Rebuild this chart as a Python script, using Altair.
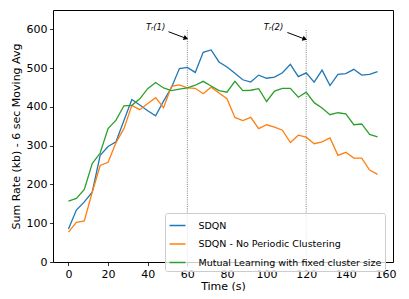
import altair as alt
import pandas as pd

time_s = [0, 4, 8, 12, 16, 20, 24, 28, 32, 36, 40, 44, 48, 52, 56, 60, 64, 68, 72, 76,
          80, 84, 88, 92, 96, 100, 104, 108, 112, 116, 120, 124, 128, 132, 136, 140, 144, 148, 152, 156]

sdqn = [85, 134, 155, 180, 275, 298, 310, 365, 419, 405, 390, 377, 415, 450, 499, 502, 489, 541, 547, 516,
        503, 487, 470, 464, 482, 474, 477, 488, 510, 478, 488, 464, 495, 455, 484, 486, 497, 482, 484, 491]

sdqn_npc = [77, 102, 106, 180, 249, 257, 308, 344, 404, 393, 409, 424, 398, 453, 457, 449, 448, 434, 451, 436,
            421, 373, 365, 373, 344, 354, 348, 340, 308, 327, 322, 305, 310, 320, 275, 283, 268, 268, 237, 226]

mutual = [157, 164, 187, 254, 281, 344, 366, 403, 404, 421, 447, 463, 449, 442, 446, 449, 456, 466, 454, 442,
          438, 466, 442, 443, 447, 414, 441, 448, 448, 425, 438, 411, 397, 380, 385, 382, 354, 356, 329, 323]

series_names = ["SDQN", "SDQN - No Periodic Clustering", "Mutual Learning with fixed cluster size"]
series_colors = ["#1f77b4", "#ff7f0e", "#2ca02c"]

vline_x = [60, 120]
vline_top = [600, 600]

ann_labels = ["Tᵣ(1)", "Tᵣ(2)"]
ann_text_x = [44, 103.5]
ann_text_y = [606, 605]
arrow_x0 = [50.5, 110.5]
arrow_y0 = [594, 592]
arrow_x1 = [59.3, 119.3]
arrow_y1 = [577, 575]

rows = []
for name, vals in zip(series_names, [sdqn, sdqn_npc, mutual]):
    for t, v in zip(time_s, vals):
        rows.append({"time": t, "value": v, "series": name})
df = pd.DataFrame(rows)

vdf = pd.DataFrame({"x": vline_x, "y0": [0, 0], "y1": vline_top})
adf = pd.DataFrame({"label": ann_labels, "tx": ann_text_x, "ty": ann_text_y,
                    "x0": arrow_x0, "y0": arrow_y0, "x1": arrow_x1, "y1": arrow_y1})

xscale = alt.Scale(domain=[-7.8, 163.8], nice=False, zero=False)
yscale = alt.Scale(domain=[0, 650], nice=False, zero=False)

lines = alt.Chart(df).mark_line(strokeWidth=1.3).encode(
    x=alt.X("time:Q", scale=xscale,
            axis=alt.Axis(title="Time (s)", values=[0, 20, 40, 60, 80, 100, 120, 140, 160])),
    y=alt.Y("value:Q", scale=yscale,
            axis=alt.Axis(title="Sum Rate (kb) - 6 sec Moving Avg", values=[0, 100, 200, 300, 400, 500, 600])),
    color=alt.Color("series:N",
                    scale=alt.Scale(domain=series_names, range=series_colors),
                    sort=series_names,
                    legend=alt.Legend(title=None, orient="none", legendX=112, legendY=203,
                                      symbolType="stroke", symbolSize=256, symbolStrokeWidth=1.5,
                                      labelFontSize=9.5, labelFont="DejaVu Sans", labelOffset=12,
                                      padding=3.5, rowPadding=4.5,
                                      fillColor="rgba(255,255,255,0.8)", strokeColor="#cccccc",
                                      cornerRadius=2, labelLimit=400)),
)

vlines = alt.Chart(vdf).mark_rule(color="gray", strokeDash=[1, 1.2], strokeWidth=1).encode(
    x=alt.X("x:Q", scale=xscale),
    y=alt.Y("y0:Q", scale=yscale),
    y2="y1:Q",
)

arrows = alt.Chart(adf).mark_rule(color="black", strokeWidth=1).encode(
    x=alt.X("x0:Q", scale=xscale),
    y=alt.Y("y0:Q", scale=yscale),
    x2="x1:Q",
    y2="y1:Q",
)

heads = alt.Chart(adf).mark_point(shape="triangle-right", filled=True, color="black",
                                  size=28, angle=20, opacity=1).encode(
    x=alt.X("x1:Q", scale=xscale),
    y=alt.Y("y1:Q", scale=yscale),
)

texts = alt.Chart(adf).mark_text(fontSize=8.5, font="DejaVu Sans", fontStyle="italic", color="black").encode(
    x=alt.X("tx:Q", scale=xscale),
    y=alt.Y("ty:Q", scale=yscale),
    text="label:N",
)

chart = alt.layer(vlines, lines, arrows, heads, texts).properties(
    width=340, height=252,
    padding={"left": 45, "top": 2, "right": 8, "bottom": 29},
    autosize=alt.AutoSizeParams(type="none"),
).configure_view(
    stroke="black", strokeWidth=1
).configure_axis(
    domain=False, grid=False, tickColor="black", tickSize=3.5, tickWidth=0.8,
    labelFontSize=11, titleFontSize=11, labelFont="DejaVu Sans", titleFont="DejaVu Sans",
    titleFontWeight="normal", labelColor="black", titleColor="black", labelPadding=2.5,
).configure_axisY(
    titlePadding=5
).configure_axisX(
    titlePadding=1
)

chart.save("out.html", embed_options={"renderer": "svg", "actions": False})
